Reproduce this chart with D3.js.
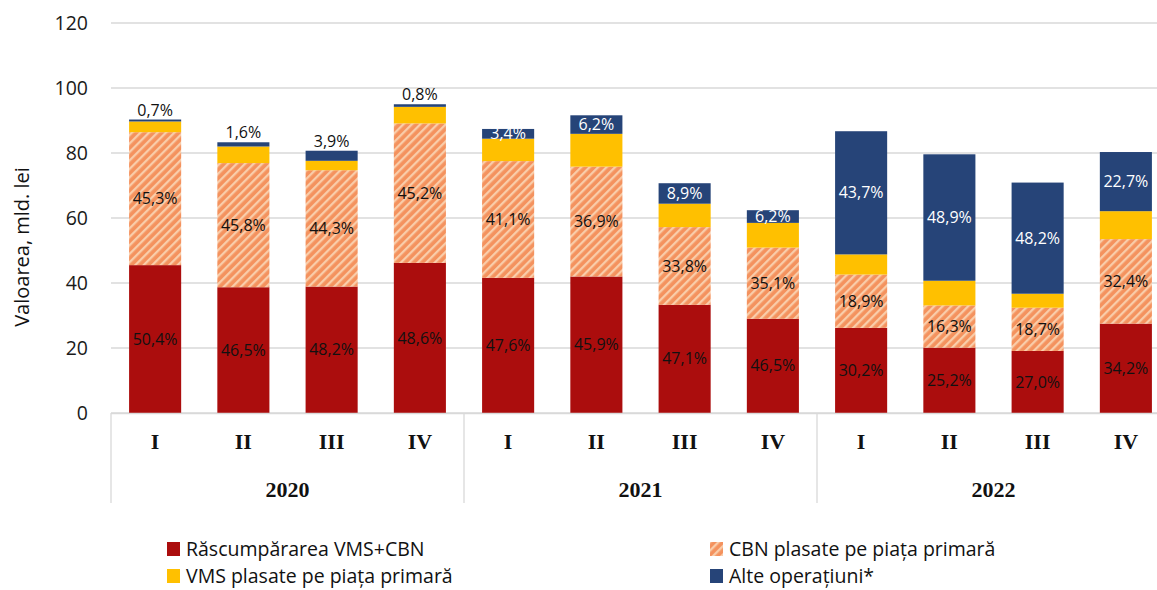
<!DOCTYPE html>
<html><head><meta charset="utf-8">
<script src="https://cdn.jsdelivr.net/npm/d3@7"></script>
<style>body{margin:0;background:#fff}svg{display:block}</style>
</head><body>
<svg id="c" width="1157" height="590"></svg>
<script>
const years = ["2020", "2021", "2022"];
const quarters = ["I", "II", "III", "IV"];
const yTicks = [0, 20, 40, 60, 80, 100, 120];
const seriesNames = ["Răscumpărarea VMS+CBN", "CBN plasate pe piața primară", "VMS plasate pe piața primară", "Alte operațiuni*"];
// values, mld. lei
const rascumparare = [45.5, 38.7, 38.9, 46.2, 41.6, 42.0, 33.3, 29.0, 26.2, 20.1, 19.1, 27.5];
const cbnPrimara   = [40.9, 38.2, 35.8, 42.9, 35.9, 33.8, 23.9, 21.9, 16.4, 13.0, 13.3, 26.0];
const vmsPrimara   = [3.3, 5.1, 2.9, 5.1, 6.9, 10.1, 7.2, 7.6, 6.2, 7.6, 4.3, 8.6];
const alteOperatii = [0.6, 1.3, 3.1, 0.8, 3.0, 5.7, 6.3, 3.9, 37.9, 38.9, 34.2, 18.2];
// percentage labels
const pctRascumparare = ["50,4%", "46,5%", "48,2%", "48,6%", "47,6%", "45,9%", "47,1%", "46,5%", "30,2%", "25,2%", "27,0%", "34,2%"];
const pctCbn = ["45,3%", "45,8%", "44,3%", "45,2%", "41,1%", "36,9%", "33,8%", "35,1%", "18,9%", "16,3%", "18,7%", "32,4%"];
const pctAlte = ["0,7%", "1,6%", "3,9%", "0,8%", "3,4%", "6,2%", "8,9%", "6,2%", "43,7%", "48,9%", "48,2%", "22,7%"];

const colors = ["#AB0D0D", "url(#hatch)", "#FFC000", "#264478"];
const font = "'Open Sans', sans-serif";

const svg = d3.select("#c");
const defs = svg.append("defs");
const pat = defs.append("pattern").attr("id", "hatch").attr("patternUnits", "userSpaceOnUse")
  .attr("width", 6).attr("height", 6).attr("patternTransform", "rotate(45)");
pat.append("rect").attr("width", 6).attr("height", 6).attr("fill", "#F4925E");
pat.append("rect").attr("x", 0).attr("width", 2.3).attr("height", 6).attr("fill", "#F9CDAA");

const rows = d3.range(12).map(i => ({
  i, year: years[Math.floor(i / 4)], q: quarters[i % 4],
  s0: rascumparare[i], s1: cbnPrimara[i], s2: vmsPrimara[i], s3: alteOperatii[i]
}));

const x = d3.scaleBand().domain(d3.range(12)).range([111, 1170]).paddingInner(0.41).paddingOuter(0.205);
const y = d3.scaleLinear().domain([0, 120]).range([413, 23]);

// gridlines
svg.append("g").selectAll("line").data(yTicks).join("line")
  .attr("x1", 111).attr("x2", 1157).attr("y1", d => y(d)).attr("y2", d => y(d))
  .attr("stroke", "#d9d9d9").attr("stroke-width", 1.3);

// y axis labels
const yAxis = d3.axisLeft(y).tickValues(yTicks).tickSize(0).tickPadding(0);
const ga = svg.append("g").attr("transform", "translate(88,0)").call(yAxis);
ga.select(".domain").remove();
ga.selectAll("text").attr("font-family", font).attr("font-size", 19.5).attr("fill", "#1a1a1a");

svg.append("text").attr("transform", "translate(29,247) rotate(-90)")
  .attr("text-anchor", "middle").attr("font-family", font).attr("font-size", 20).attr("fill", "#111")
  .text("Valoarea, mld. lei");

const stack = d3.stack().keys(["s0", "s1", "s2", "s3"]);
const series = stack(rows);

svg.append("g").selectAll("g").data(series).join("g")
  .attr("fill", (d, k) => colors[k])
  .selectAll("rect").data(d => d).join("rect")
  .attr("x", d => x(d.data.i)).attr("width", x.bandwidth())
  .attr("y", d => y(d[1])).attr("height", d => y(d[0]) - y(d[1]));

// category axis
const cat = svg.append("g");
cat.append("line").attr("x1", 111).attr("x2", 1157).attr("y1", 413.5).attr("y2", 413.5).attr("stroke", "#d9d9d9").attr("stroke-width", 1.3);
const seps = [0, 4, 8, 12].map(k => 111 + x.step() * k);
cat.selectAll("line.sep").data(seps).join("line").attr("class", "sep")
  .attr("x1", d => d).attr("x2", d => d).attr("y1", 413).attr("y2", 503)
  .attr("stroke", "#d9d9d9").attr("stroke-width", 1.3);
cat.selectAll("text.q").data(rows).join("text").attr("class", "q")
  .attr("x", d => x(d.i) + x.bandwidth() / 2).attr("y", 449)
  .attr("text-anchor", "middle").attr("font-family", "'Liberation Serif', serif").attr("font-weight", "bold")
  .attr("font-size", 22).attr("fill", "#111").text(d => d.q);
cat.selectAll("text.y").data(years).join("text").attr("class", "y")
  .attr("x", (d, k) => 111 + x.step() * (4 * k + 2)).attr("y", 497)
  .attr("text-anchor", "middle").attr("font-family", "'Liberation Serif', serif").attr("font-weight", "bold")
  .attr("font-size", 22).attr("fill", "#111").text(d => d);

// labels
const lab = svg.append("g").attr("font-family", font).attr("font-size", 16).attr("text-anchor", "middle");
const mid = d => (y(d[0]) + y(d[1])) / 2;
lab.selectAll("text.r").data(series[0]).join("text").attr("class", "r")
  .attr("x", d => x(d.data.i) + x.bandwidth() / 2).attr("y", d => mid(d)).attr("dy", "0.35em")
  .attr("fill", "#111").text((d, k) => pctRascumparare[k]);
lab.selectAll("text.c").data(series[1]).join("text").attr("class", "c")
  .attr("x", d => x(d.data.i) + x.bandwidth() / 2).attr("y", d => mid(d)).attr("dy", "0.35em")
  .attr("fill", "#111").text((d, k) => pctCbn[k]);
lab.selectAll("text.a").data(series[3]).join("text").attr("class", "a")
  .attr("x", d => x(d.data.i) + x.bandwidth() / 2)
  .attr("y", d => d.data.i < 4 ? y(d[1]) - 4 : mid(d))
  .attr("dy", d => d.data.i < 4 ? "0" : "0.35em")
  .attr("fill", d => d.data.i < 4 ? "#111" : "#fff").text((d, k) => pctAlte[k]);

// legend
const legPos = [[167, 549], [710, 549], [167, 576], [710, 576]];
const leg = svg.append("g").selectAll("g").data(seriesNames).join("g")
  .attr("transform", (d, k) => `translate(${legPos[k][0]},${legPos[k][1]})`);
leg.append("rect").attr("x", 0).attr("y", -7).attr("width", 13).attr("height", 14).attr("fill", (d, k) => colors[k]);
leg.append("text").attr("x", 19).attr("y", 0).attr("dy", "0.35em").attr("font-family", font)
  .attr("font-size", 19.5).attr("fill", "#111").text(d => d);
</script>
</body></html>
